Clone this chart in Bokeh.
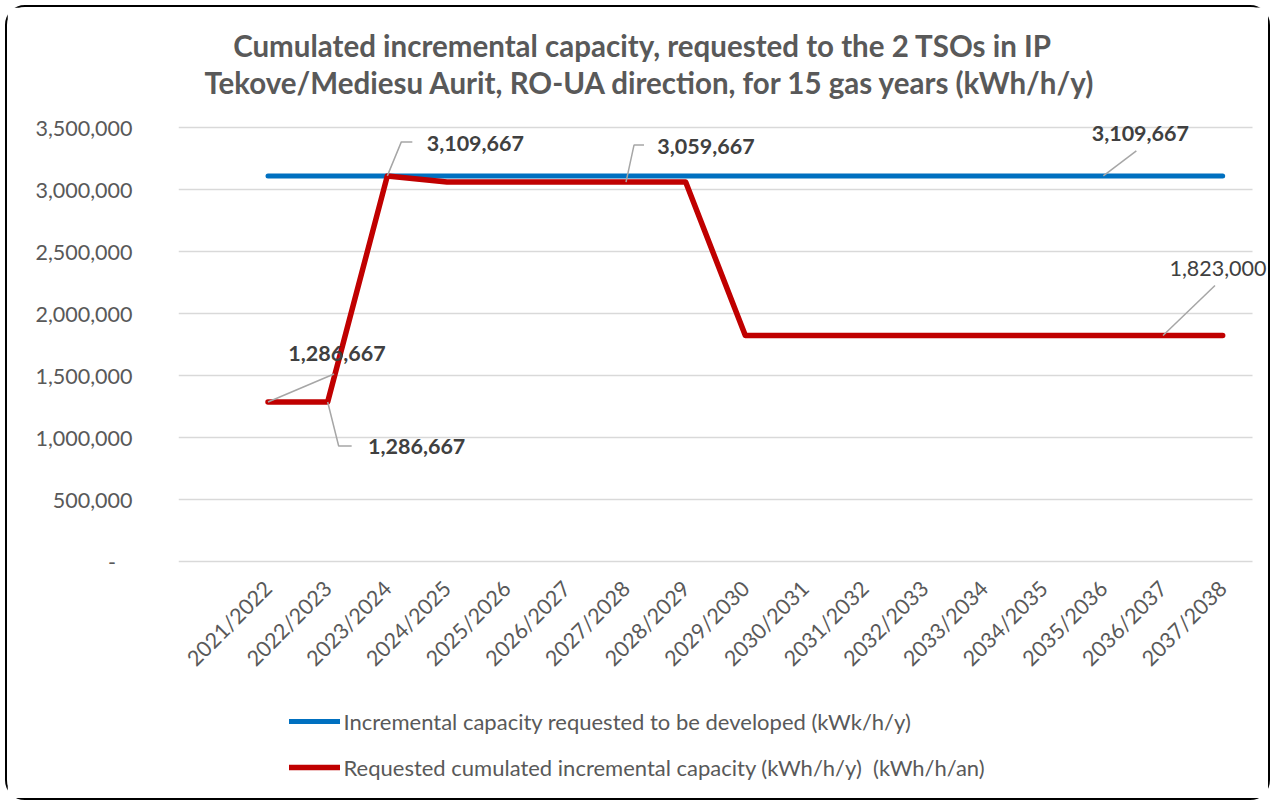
import math
from bokeh.plotting import figure
from bokeh.models import (Range1d, FixedTicker, NumeralTickFormatter, Legend,
                          LegendItem, Label)
from bokeh.embed import file_html
from bokeh.resources import INLINE

# ---------------- data ----------------
categories = ["2021/2022", "2022/2023", "2023/2024", "2024/2025", "2025/2026",
              "2026/2027", "2027/2028", "2028/2029", "2029/2030", "2030/2031",
              "2031/2032", "2032/2033", "2033/2034", "2034/2035", "2035/2036",
              "2036/2037", "2037/2038"]
capacity_developed = [3109667, 3109667, 3109667, 3109667, 3109667, 3109667,
                      3109667, 3109667, 3109667, 3109667, 3109667, 3109667,
                      3109667, 3109667, 3109667, 3109667, 3109667]
requested_cumulated = [1286667, 1286667, 3109667, 3059667, 3059667, 3059667,
                       3059667, 3059667, 1823000, 1823000, 1823000, 1823000,
                       1823000, 1823000, 1823000, 1823000, 1823000]
y_ticks = [0, 500000, 1000000, 1500000, 2000000, 2500000, 3000000, 3500000]

series_names = ["Incremental capacity requested to be developed (kWk/h/y)",
                "Requested cumulated incremental capacity (kWh/h/y)  (kWh/h/an)"]
title_lines = ["Cumulated incremental capacity, requested to the 2 TSOs in IP",
               "Tekove/Mediesu Aurit, RO-UA direction, for 15 gas years (kWh/h/y)"]

# x positions: slot 0 is an empty category, data in slots 1..17
x_pos = list(range(1, len(categories) + 1))

# ---------------- layout ----------------
W, H = 1265, 795
FL = 171                    # frame left (canvas px); frame fills the rest
GRID_TOP, ZERO_PX, GRID_RIGHT = 120, 554, 1245   # plot-area box (canvas px)
Y_TOP = 3500000
X_START, X_END = -0.5, len(categories) + 0.5
PX_X = (X_END - X_START) / (GRID_RIGHT - FL)
PX_Y = Y_TOP / (ZERO_PX - GRID_TOP)
X0, X1 = X_START, X_END + (W - GRID_RIGHT) * PX_X
Y0, Y1 = -(H - ZERO_PX) * PX_Y, Y_TOP + GRID_TOP * PX_Y

FONT = "Lato"
GREY = "#595959"
DARK = "#404040"
BLUE = "#0070C0"
RED = "#C00000"

p = figure(width=W, height=H, output_backend="svg", toolbar_location=None,
           title=None, x_range=Range1d(X0, X1), y_range=Range1d(Y0, Y1),
           min_border_left=FL, min_border_top=0, min_border_right=0,
           min_border_bottom=0)
p.styles = {"border": "2px solid #000", "border-radius": "20px",
            "margin": "5px 0 0 5px"}
p.background_fill_color = "white"
p.border_fill_color = "white"
p.outline_line_color = None

# two-line chart title, centred over the chart area
for line, (cx, cy) in zip(title_lines, [(464, 82), (472, 45)]):
    p.add_layout(Label(x=X_START + cx * PX_X, y=Y_TOP + cy * PX_Y, text=line,
                       text_align="center", text_baseline="middle",
                       text_font=FONT, text_font_size="29.5px",
                       text_font_style="bold", text_color=GREY))

# horizontal gridlines across the plot area only
p.xgrid.grid_line_color = None
p.ygrid.grid_line_color = None
p.segment(x0=[X_START] * len(y_ticks), x1=[X_END] * len(y_ticks),
          y0=y_ticks, y1=y_ticks, line_color="#D9D9D9", line_width=1.5)

# x axis hidden; category labels written under the zero line
p.xaxis.visible = False
for x, cat in zip(x_pos, categories):
    p.add_layout(Label(x=x, y=0, text=cat, angle=math.pi / 4,
                       x_offset=0, y_offset=-23,
                       text_align="right", text_baseline="middle",
                       text_font=FONT, text_font_size="21.5px",
                       text_color=GREY))

p.yaxis.ticker = FixedTicker(ticks=y_ticks)
p.yaxis.formatter = NumeralTickFormatter(format="0,0")
p.yaxis.major_label_overrides = {0: "-\u00a0\u00a0\u00a0"}
p.yaxis.axis_line_color = None
p.yaxis.major_tick_line_color = None
p.yaxis.minor_tick_line_color = None
p.yaxis.major_label_standoff = 40
p.yaxis.major_label_text_font = FONT
p.yaxis.major_label_text_font_size = "21.5px"
p.yaxis.major_label_text_color = GREY

# series
r_blue = p.line(x_pos, capacity_developed, line_color=BLUE, line_width=5,
                line_cap="round", line_join="round")
r_red = p.line(x_pos, requested_cumulated, line_color=RED, line_width=5.5,
               line_cap="round", line_join="round")

# data labels with leader lines (offsets in screen px, y downwards)
series_vals = {"blue": capacity_developed, "red": requested_cumulated}
callouts = [
    ("red", 0, [(0, 0), (66, -28)], (69, -48), "bold"),
    ("red", 1, [(0, 0), (11, 44), (24, 44)], (89, 45), "bold"),
    ("red", 2, [(0, 0), (14, -34), (25, -34)], (88, -32), "bold"),
    ("red", 6, [(0, 0), (8, -37), (18, -37)], (80, -36), "bold"),
    ("blue", 14, [(0, 0), (33, -25)], (37, -42), "bold"),
    ("red", 15, [(0, 0), (52, -50)], (55, -67), "normal"),
]
for key, idx, path, (lx, ly), style in callouts:
    vals = series_vals[key]
    xd, yd = x_pos[idx], vals[idx]
    p.line([xd + dx * PX_X for dx, dy in path],
           [yd - dy * PX_Y for dx, dy in path],
           line_color="#A6A6A6", line_width=1.5)
    p.add_layout(Label(x=xd, y=yd, x_offset=lx, y_offset=-ly,
                       text=f"{yd:,}", text_align="center",
                       text_baseline="middle", text_font=FONT,
                       text_font_size="21.5px", text_font_style=style,
                       text_color=DARK))

# legend at the bottom of the chart area
legend = Legend(items=[LegendItem(label=series_names[0], renderers=[r_blue]),
                       LegendItem(label=series_names[1], renderers=[r_red])],
                location=(110.5, 14.3 + (H - 788)), orientation="vertical",
                glyph_width=51, glyph_height=26, label_height=26,
                label_standoff=4, spacing=19, padding=0, margin=0,
                border_line_color=None, background_fill_alpha=0,
                label_text_font=FONT, label_text_font_size="22px",
                label_text_color=GREY)
p.add_layout(legend, "center")

open("out.html", "w").write(file_html(p, INLINE))
